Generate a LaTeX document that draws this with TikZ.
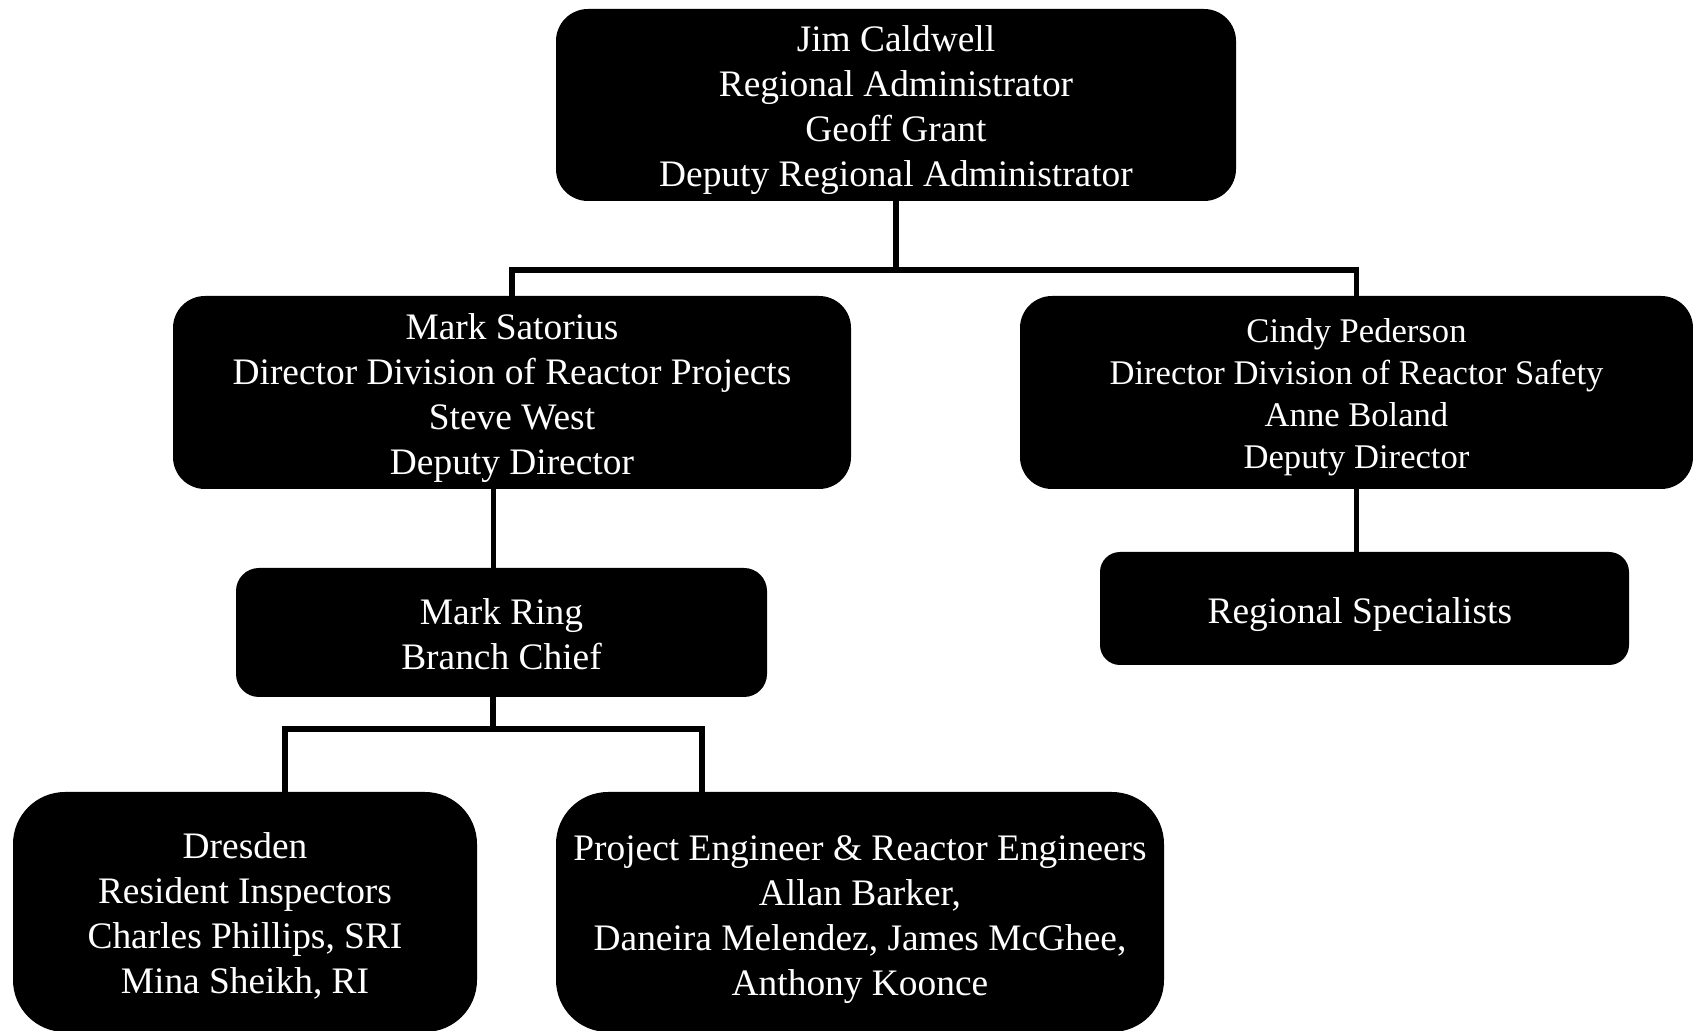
\documentclass[tikz,border=0pt]{standalone}
\usepackage{fontspec}
\setmainfont{Liberation Serif}
\usetikzlibrary{positioning}
\newcommand{\BoxFont}{\fontsize{18.7}{22.5}\selectfont}
\newcommand{\SmallBoxFont}{\fontsize{17.3}{20.9}\selectfont}

\begin{document}
\begin{tikzpicture}[
  x=0.5pt, y=-0.5pt,
  every node/.style={font=\BoxFont},   % Times-like body text
  orgbox/.style={
    rectangle, fill=black, text=white,
    align=center, inner sep=0pt, text depth=4pt
  },
  wire/.style={line width=2.7pt, draw=black, line join=miter}
]

% ---------- Canvas ----------
\fill[white] (0,0) rectangle (1693,1031);
\useasboundingbox (0,0) rectangle (1693,1031);

% ---------- Boxes ----------
\node[orgbox, minimum width=340pt, minimum height=96pt, rounded corners=16pt,
      text height=85.7pt] (ra)
  at (896,105) {
  Jim Caldwell\\Regional Administrator\\Geoff Grant\\Deputy Regional Administrator
};

\node[orgbox, minimum width=339pt, minimum height=96.5pt, rounded corners=16pt,
      text height=85.7pt] (drp)
  at (512,392.5) {
  Mark Satorius\\Director Division of Reactor Projects\\Steve West\\Deputy Director
};

\node[orgbox, minimum width=336.5pt, minimum height=96.5pt, rounded corners=16pt,
      font=\SmallBoxFont, text height=79.9pt] (drs)
  at (1356.5,392.5) {
  Cindy Pederson\\Director Division of Reactor Safety\\Anne Boland\\Deputy Director
};

\node[orgbox, minimum width=265.5pt, minimum height=64.5pt, rounded corners=11.5pt,
      text height=40.7pt] (ring)
  at (501.5,632.5) {
  Mark Ring\\Branch Chief
};

\node[orgbox, minimum width=264.5pt, minimum height=56.5pt, rounded corners=10pt,
      text height=19.2pt] (spec)
  at (1364.5,608.5) {
  Regional Specialists
};

\node[orgbox, minimum width=232pt, minimum height=120pt, rounded corners=26pt,
      text height=85.7pt] (dres)
  at (245,912) {
  Dresden\\Resident Inspectors\\Charles Phillips, SRI\\Mina Sheikh, RI
};

\node[orgbox, minimum width=304pt, minimum height=120pt, rounded corners=26pt,
      text height=87.9pt] (peng)
  at (860,912) {
  Project Engineer \& Reactor Engineers\\Allan Barker,\\Daneira Melendez, James McGhee,\\Anthony Koonce
};

% ---------- Connectors ----------
\coordinate (busTop) at (895,270);
\draw[wire] (ra.south) -- (ra.south |- busTop);
\draw[wire] (drp.north) |- (busTop) -| (drs.north);

\draw[wire] ([xshift=-4pt]ring.north) -- ([xshift=-4pt]ring.north |- drp.south);
\draw[wire] (drs.south) -- (drs.south |- spec.north);

\coordinate (busLow) at (493,729);
\coordinate (dropRI) at (285,729);
\coordinate (dropPE) at (702,729);
\draw[wire] (busLow |- ring.south) -- (busLow);
\draw[wire] (dropRI |- dres.north) -- (dropRI) -- (dropPE) -- (dropPE |- peng.north);

\end{tikzpicture}
\end{document}
